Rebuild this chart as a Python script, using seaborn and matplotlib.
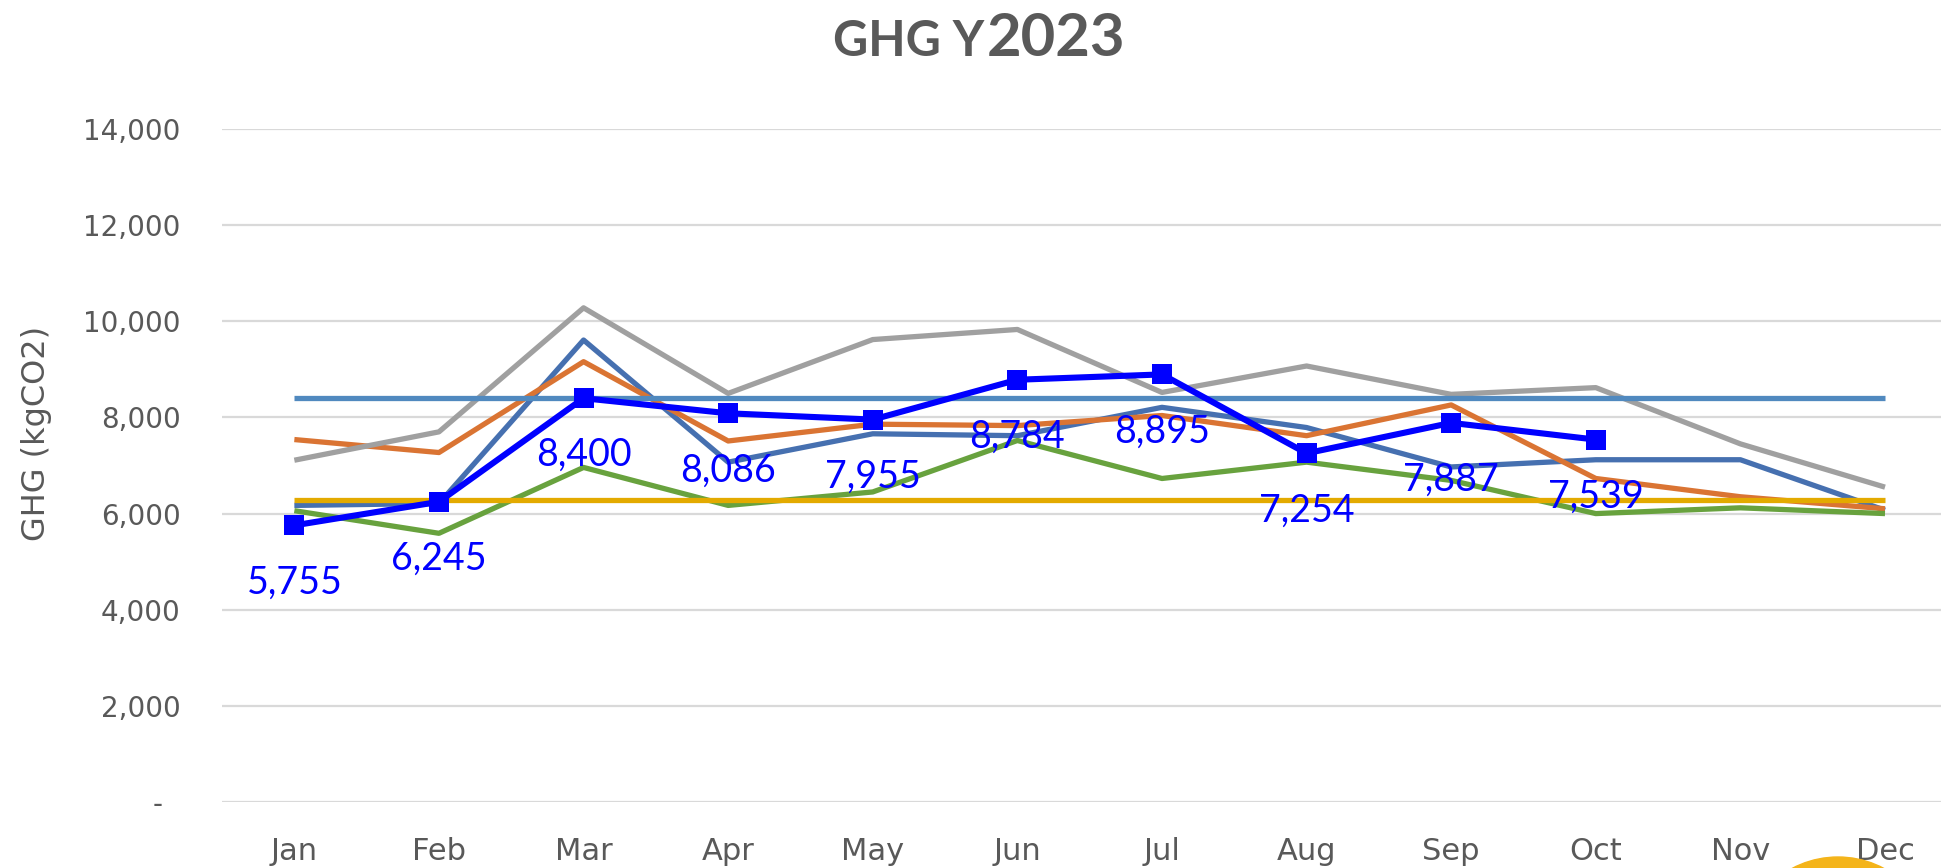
import numpy as np
import seaborn as sns
import matplotlib.pyplot as plt
from matplotlib.patches import Circle
from matplotlib.ticker import FuncFormatter

months = ['Jan', 'Feb', 'Mar', 'Apr', 'May', 'Jun', 'Jul', 'Aug', 'Sep', 'Oct', 'Nov', 'Dec']

# earlier years (no legend in the source, so only generic names)
hist_a = [6170, 6210, 9610, 7070, 7660, 7620, 8210, 7790, 6970, 7120, 7120, 6070]
hist_b = [7540, 7270, 9160, 7510, 7860, 7830, 8040, 7620, 8260, 6730, 6350, 6100]
hist_c = [7110, 7700, 10280, 8500, 9620, 9830, 8520, 9070, 8480, 8620, 7450, 6550]
hist_d = [6060, 5590, 6960, 6170, 6450, 7520, 6730, 7070, 6690, 6000, 6120, 6000]

# reference levels
ref_high = [8400] * 12
ref_low = [6290] * 12

# current year, Jan-Oct
ghg_2023 = [5755, 6245, 8400, 8086, 7955, 8784, 8895, 7254, 7887, 7539]

GREY_TXT = '#595959'

sns.set_theme(style='white')
plt.rcParams['font.family'] = ['DejaVu Sans']

fig = plt.figure(figsize=(19.41, 8.68), dpi=100)
ax = fig.add_axes([0.1144, 0.0760, 0.894, 0.7754])

# order matters for overlap: refs above the history lines, 2023 on top
series = [
    (hist_a, '#4670B0', 2),
    (hist_b, '#DA7433', 2),
    (hist_c, '#A0A0A0', 2),
    (hist_d, '#68A23E', 2),
    (ref_high, '#5089BF', 3),
    (ref_low, '#E3AA00', 3),
]
for vals, col, z in series:
    sns.lineplot(x=months, y=vals, ax=ax, color=col, lw=3.8, sort=False,
                 zorder=z, solid_capstyle='butt')

sns.lineplot(x=months[:len(ghg_2023)], y=ghg_2023, ax=ax, color='#0000FF', lw=4.4,
             marker='s', markersize=15, markeredgewidth=0, sort=False, zorder=4)

for i, v in enumerate(ghg_2023):
    ax.annotate(f'{v:,.0f}', xy=(i, v), xytext=(0, -41), textcoords='offset points',
                ha='center', va='center', color='#0000FF', fontsize=27,
                family=['Lato', 'DejaVu Sans'], zorder=5)

ax.set_xlim(-0.5, 11.5)
ax.set_ylim(0, 14000)
ax.set_yticks(np.arange(0, 14001, 2000))
ax.yaxis.set_major_formatter(FuncFormatter(lambda v, p: '-  ' if v == 0 else f'{v:,.0f}'))
ax.grid(axis='y', color='#D9D9D9', lw=1.6)
ax.grid(axis='x', visible=False)
ax.set_axisbelow(True)
for s in ax.spines.values():
    s.set_visible(False)

ax.tick_params(axis='y', length=0, pad=30, labelsize=20, labelcolor=GREY_TXT)
ax.tick_params(axis='x', length=0, pad=25, labelsize=22, labelcolor=GREY_TXT)
ax.set_xlabel('')
ax.set_ylabel('GHG (kgCO2)', fontsize=23, color=GREY_TXT)
ax.yaxis.set_label_coords(-0.098, 0.547)

# title: "GHG Y" smaller, "2023" larger
fig.text(984 / 1941, 1 - 56 / 868, 'GHG Y', ha='right', va='baseline', fontsize=35,
         fontweight='bold', color=GREY_TXT, family=['Lato', 'DejaVu Sans'])
fig.text(987 / 1941, 1 - 56 / 868, '2023', ha='left', va='baseline', fontsize=43,
         fontweight='bold', color=GREY_TXT, family=['Lato', 'DejaVu Sans'])

# yellow badge peeking in at the bottom right
fig.patches.append(Circle((18.38, -0.87), 0.98, transform=fig.dpi_scale_trans,
                          color='#F4B41A', zorder=10))

fig.savefig('out.png', dpi=100)
